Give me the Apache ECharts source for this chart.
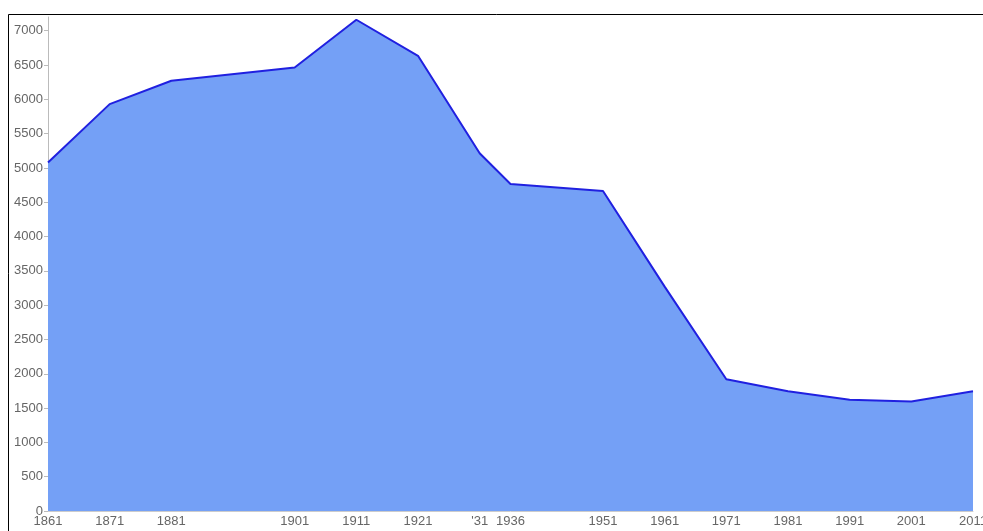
<!DOCTYPE html>
<html>
<head>
<meta charset="utf-8">
<script src="https://cdn.jsdelivr.net/npm/echarts@6/dist/echarts.min.js"></script>
<style>
  html, body { margin: 0; padding: 0; background: #fff; }
  #chart { width: 983px; height: 531px; }
</style>
</head>
<body>
<div id="chart"></div>
<script>
// census years and population
const years = [1861, 1871, 1881, 1901, 1911, 1921, 1931, 1936, 1951, 1961, 1971, 1981, 1991, 2001, 2011];
const population = [5080, 5930, 6270, 6465, 7160, 6635, 5215, 4765, 4665, 3270, 1920, 1745, 1623, 1595, 1745];
const yearTicks = [1861, 1871, 1881, 1901, 1911, 1921, 1931, 1936, 1951, 1961, 1971, 1981, 1991, 2001, 2011];
const popTicks = [0, 500, 1000, 1500, 2000, 2500, 3000, 3500, 4000, 4500, 5000, 5500, 6000, 6500, 7000];

const chart = echarts.init(document.getElementById('chart'));

const points = years.map((y, i) => [y, population[i]]);

chart.setOption({
    animation: false,
    grid: { left: 48, right: 10, top: 17, bottom: 20, outerBoundsMode: 'none', containLabel: false },
    graphic: [{
        type: 'rect',
        shape: { x: 8.5, y: 14.5, width: 1000, height: 600 },
        style: { fill: 'none', stroke: '#000', lineWidth: 1 },
        z: 100
    }],
    xAxis: {
        type: 'value',
        min: 1861,
        max: 2011,
        splitLine: { show: false },
        axisLine: { show: true, lineStyle: { color: '#ccc' } },
        axisTick: { show: false },
        axisLabel: {
            customValues: yearTicks,
            color: '#666',
            fontFamily: 'Liberation Sans, Arial, sans-serif',
            fontSize: 13,
            margin: 4,
            formatter: (v) => v == 1931 ? "'31" : String(v)
        }
    },
    yAxis: {
        type: 'value',
        min: 0,
        max: 7200,
        splitLine: { show: false },
        axisLine: { show: true, lineStyle: { color: '#bbb' } },
        axisTick: { show: true, customValues: popTicks, length: 4, lineStyle: { color: '#bbb' } },
        axisLabel: {
            customValues: popTicks,
            color: '#666',
            fontFamily: 'Liberation Sans, Arial, sans-serif',
            fontSize: 13,
            margin: 5,
            formatter: (v) => String(v)
        }
    },
    series: [{
        type: 'line',
        data: points,
        symbol: 'none',
        lineStyle: { color: '#2020e0', width: 2 },
        areaStyle: { color: '#74a0f6', opacity: 1 }
    }]
});
</script>
</body>
</html>
